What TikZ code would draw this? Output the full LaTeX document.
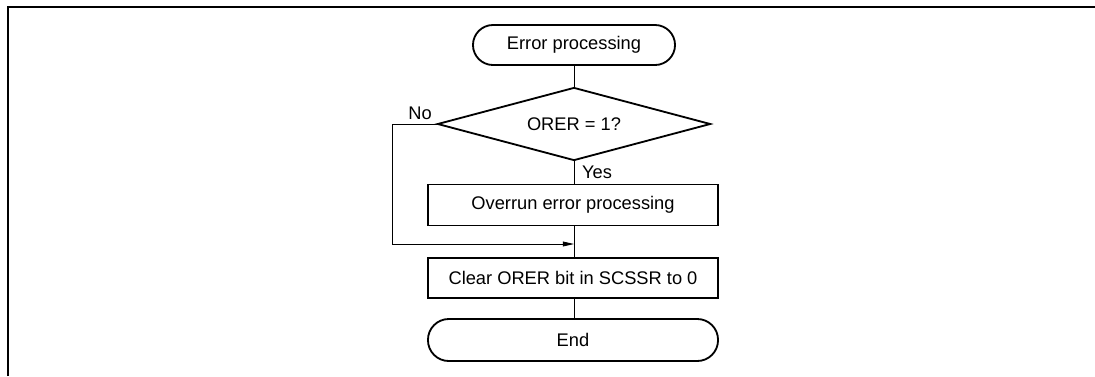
\documentclass[tikz,border=0pt]{standalone}
\usepackage{fontspec}
\setmainfont{Liberation Sans}
\usetikzlibrary{arrows.meta}
\usetikzlibrary{shapes.geometric}

\tikzset{
  termbox/.style={draw, line width=1.3pt, rounded corners=0.5cm, inner sep=0},
  procbox/.style={draw, line width=1.3pt, inner sep=0, minimum width=7.25cm},
  decbox/.style={draw, diamond, aspect=3.7, line width=1.3pt, inner sep=0,
                 minimum width=6.825cm, minimum height=1.825cm},
  flow/.style={black, line width=0.6pt}
}

\begin{document}
\begin{tikzpicture}[x=0.025cm, y=-0.025cm, font=\fontsize{13}{15}\selectfont]
\useasboundingbox (0,0) rectangle (1095,376);
\draw[line width=1.4pt] (8,376) |- (1095,7);
\node[termbox, minimum width=5.05cm, minimum height=1cm] (start) at (574,45) {Error processing};
\node[decbox] (ovr) at (574,124) {ORER = 1?};
\node[procbox, minimum height=1.025cm] (handle) at (573,205) {Overrun error processing};
\node[procbox, minimum height=1cm] (clear) at (573,278) {Clear ORER bit in SCSSR to 0};
\node[termbox, minimum width=7.25cm, minimum height=1.05cm, rounded corners=0.52cm] (stop) at (573,340) {End};
\coordinate (join) at (574,244);
\coordinate (side) at (392,124);
\node (no) at (420,113) {No};
\node (yes) at (597,172) {Yes};
\draw[flow] (start) -- (ovr);
\draw[flow] (ovr.south) -- (handle.north -| ovr.south);
\draw[flow] (handle.south -| join) -- (clear.north -| join);
\draw[flow] (clear.south -| join) -- (stop.north -| join);
\draw[flow,-{Triangle[length=8pt,width=3.5pt]}] (ovr.west) -- (side) |- (join);
\end{tikzpicture}
\end{document}
